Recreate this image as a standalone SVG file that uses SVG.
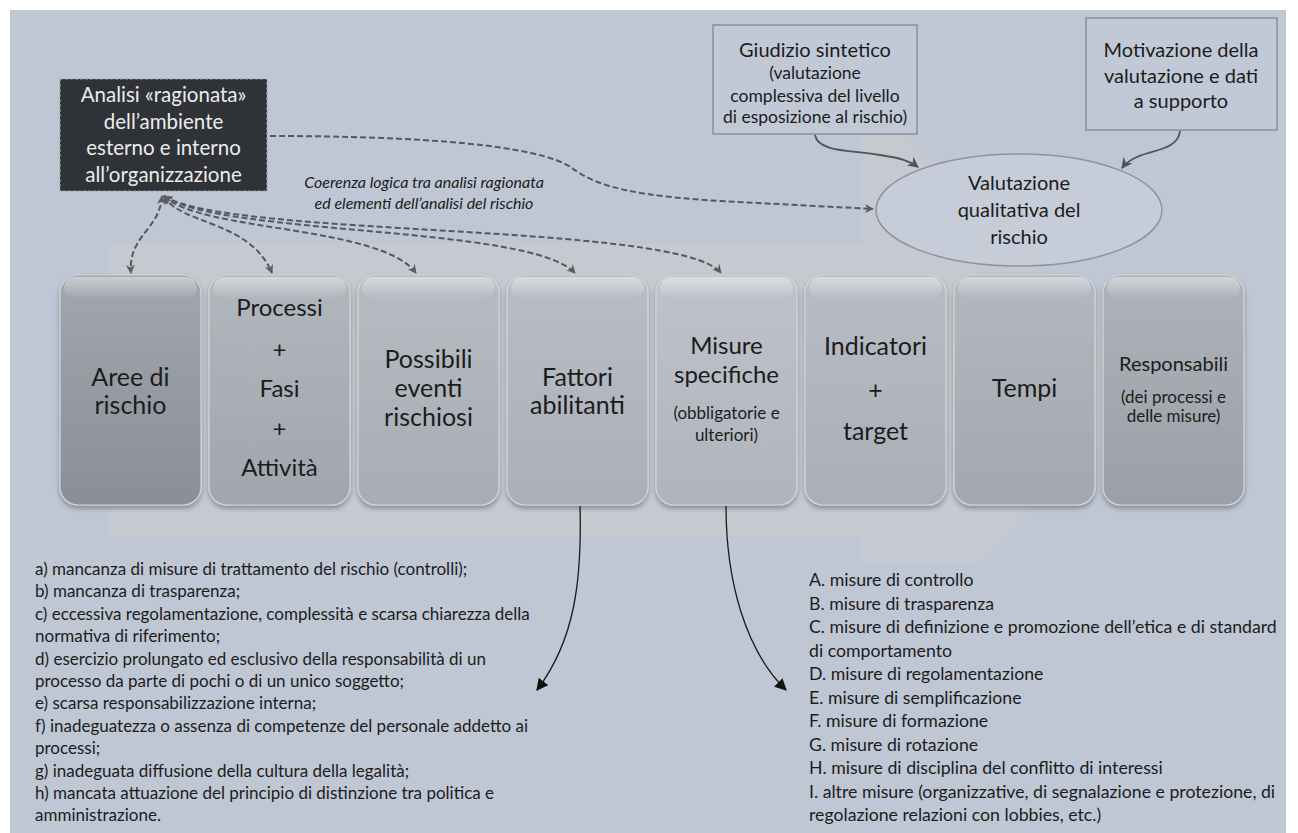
<svg xmlns="http://www.w3.org/2000/svg" width="1298" height="833" viewBox="0 0 1298 833">
<defs>
<style>
.t{font-family:Lato,"Open Sans","DejaVu Sans",sans-serif;fill:#1c1c1c;text-anchor:middle}
.bx{font-size:25px}
.bm{font-size:24px}
.sm{font-size:17px}
.tb{font-size:20px}
.ts{font-size:17.5px}
.dk{font-family:Lato,"Open Sans","DejaVu Sans",sans-serif;fill:#ececec;font-size:20.5px;text-anchor:middle}
.it{font-family:Lato,"Open Sans","DejaVu Sans",sans-serif;font-style:italic;font-size:16px;fill:#1c1c1c;text-anchor:middle}
.ll{font-family:Lato,"Open Sans","DejaVu Sans",sans-serif;font-size:17px;fill:#1c1c1c}
.lr{font-family:Lato,"Open Sans","DejaVu Sans",sans-serif;font-size:17.7px;fill:#1c1c1c}
.dash{fill:none;stroke:#55585e;stroke-width:2;stroke-dasharray:6 3}
.curv{fill:none;stroke:#505358;stroke-width:1.8}
.blk{fill:none;stroke:#1a1a1a;stroke-width:1.3}
.card{stroke:#d2d5da;stroke-width:1.2;filter:url(#sh)}
.gloss{fill:url(#gl)}
</style>
<filter id="sh" x="-10%" y="-10%" width="120%" height="120%">
<feDropShadow dx="0" dy="3" stdDeviation="2.5" flood-color="#000" flood-opacity="0.3"/>
</filter>
<linearGradient id="gl" x1="0" y1="0" x2="0" y2="1">
<stop offset="0" stop-color="#fff" stop-opacity="0.45"/>
<stop offset="1" stop-color="#fff" stop-opacity="0"/>
</linearGradient>
<linearGradient id="g1" x1="0" y1="0" x2="0" y2="1"><stop offset="0" stop-color="#a2a6ad"/><stop offset="1" stop-color="#8a8e96"/></linearGradient>
<linearGradient id="g2" x1="0" y1="0" x2="0" y2="1"><stop offset="0" stop-color="#b2b6bd"/><stop offset="1" stop-color="#a1a5ad"/></linearGradient>
<linearGradient id="g3" x1="0" y1="0" x2="0" y2="1"><stop offset="0" stop-color="#b7bbc2"/><stop offset="1" stop-color="#a8acb4"/></linearGradient>
<linearGradient id="g4" x1="0" y1="0" x2="0" y2="1"><stop offset="0" stop-color="#b9bdc5"/><stop offset="1" stop-color="#abafb7"/></linearGradient>
<linearGradient id="g5" x1="0" y1="0" x2="0" y2="1"><stop offset="0" stop-color="#bec2ca"/><stop offset="1" stop-color="#b0b4bc"/></linearGradient>
<linearGradient id="g6" x1="0" y1="0" x2="0" y2="1"><stop offset="0" stop-color="#b8bcc4"/><stop offset="1" stop-color="#aaaeb6"/></linearGradient>
<linearGradient id="g7" x1="0" y1="0" x2="0" y2="1"><stop offset="0" stop-color="#b3b7be"/><stop offset="1" stop-color="#a3a7af"/></linearGradient>
<linearGradient id="g8" x1="0" y1="0" x2="0" y2="1"><stop offset="0" stop-color="#aeb2b9"/><stop offset="1" stop-color="#9b9fa7"/></linearGradient>
<marker id="ad" viewBox="0 0 10 10" refX="9" refY="5" markerWidth="9" markerHeight="9" markerUnits="userSpaceOnUse" orient="auto-start-reverse">
<path d="M0,0 L10,5 L0,10 L3,5 z" fill="#5a5d62"/>
</marker>
<marker id="ag" viewBox="0 0 10 10" refX="9" refY="5" markerWidth="11" markerHeight="11" markerUnits="userSpaceOnUse" orient="auto">
<path d="M0,0 L10,5 L0,10 L3,5 z" fill="#505358"/>
</marker>
<marker id="ab" viewBox="0 0 10 10" refX="9" refY="5" markerWidth="12" markerHeight="12" markerUnits="userSpaceOnUse" orient="auto">
<path d="M0,0 L10,5 L0,10 z" fill="#111"/>
</marker>
</defs>

<rect x="0" y="0" width="1298" height="833" fill="#ffffff"/>
<rect x="10" y="10" width="1276" height="823" fill="#bfc7d5"/>
<path d="M110 243 L862 243 L862 128 L898 128 L1158 388 L977 562 L862 562 L862 535 L110 535 Z" fill="#c6c9d0"/>

<g id="analisi">
<rect x="60" y="79" width="207" height="112" fill="#2f3236" stroke="#a0a2a6" stroke-width="1.2" stroke-dasharray="3 2"/>
<text class="dk" x="163.5" y="102">Analisi «ragionata»</text>
<text class="dk" x="163.5" y="129">dell’ambiente</text>
<text class="dk" x="163.5" y="155">esterno e interno</text>
<text class="dk" x="163.5" y="182">all’organizzazione</text>
</g>

<g id="giudizio">
<rect x="713" y="25" width="204" height="109" fill="#c2c9d6" stroke="#8a8e96" stroke-width="1.5"/>
<text class="t tb" x="815" y="57">Giudizio sintetico</text>
<text class="t ts" x="815" y="79">(valutazione</text>
<text class="t ts" x="815" y="102">complessiva del livello</text>
<text class="t ts" x="815" y="123">di esposizione al rischio)</text>
</g>

<g id="motivazione">
<rect x="1086" y="18" width="191" height="112" fill="#c2c9d6" stroke="#8a8e96" stroke-width="1.5"/>
<text class="t tb" x="1181" y="57">Motivazione della</text>
<text class="t tb" x="1181" y="83">valutazione e dati</text>
<text class="t tb" x="1181" y="108">a supporto</text>
</g>

<g id="valutazione">
<ellipse cx="1019" cy="210" rx="143" ry="56" fill="#c6ccd8" stroke="#8e939b" stroke-width="1.5"/>
<text class="t tb" x="1019" y="190">Valutazione</text>
<text class="t tb" x="1019" y="217">qualitativa del</text>
<text class="t tb" x="1019" y="244">rischio</text>
</g>

<g id="coerenza">
<text class="it" x="424" y="188">Coerenza logica tra analisi ragionata</text>
<text class="it" x="424" y="209">ed elementi dell’analisi del rischio</text>
</g>

<g id="aree">
<rect class="card" x="60" y="275" width="141" height="230" rx="18" fill="url(#g1)"/>
<rect class="gloss" x="64" y="277" width="133" height="22" rx="11"/>
<text class="t bx" x="130.5" y="386">Aree di</text>
<text class="t bx" x="130.5" y="414">rischio</text>
</g>
<g id="processi">
<rect class="card" x="209" y="275" width="141" height="230" rx="18" fill="url(#g2)"/>
<rect class="gloss" x="213" y="277" width="133" height="22" rx="11"/>
<text class="t bm" x="279.5" y="316">Processi</text>
<text class="t bm" x="279.5" y="358">+</text>
<text class="t bm" x="279.5" y="397">Fasi</text>
<text class="t bm" x="279.5" y="437">+</text>
<text class="t bm" x="279.5" y="476">Attività</text>
</g>
<g id="possibili">
<rect class="card" x="358" y="275" width="141" height="230" rx="18" fill="url(#g3)"/>
<rect class="gloss" x="362" y="277" width="133" height="22" rx="11"/>
<text class="t bx" x="428.5" y="368">Possibili</text>
<text class="t bx" x="428.5" y="397">eventi</text>
<text class="t bx" x="428.5" y="426">rischiosi</text>
</g>
<g id="fattori">
<rect class="card" x="507" y="275" width="141" height="230" rx="18" fill="url(#g4)"/>
<rect class="gloss" x="511" y="277" width="133" height="22" rx="11"/>
<text class="t bx" x="577.5" y="386">Fattori</text>
<text class="t bx" x="577.5" y="414">abilitanti</text>
</g>
<g id="misure">
<rect class="card" x="656" y="275" width="141" height="230" rx="18" fill="url(#g5)"/>
<rect class="gloss" x="660" y="277" width="133" height="22" rx="11"/>
<text class="t bm" x="726.5" y="354">Misure</text>
<text class="t bm" x="726.5" y="383">specifiche</text>
<text class="t sm" x="726.5" y="419">(obbligatorie e</text>
<text class="t sm" x="726.5" y="441">ulteriori)</text>
</g>
<g id="indicatori">
<rect class="card" x="805" y="275" width="141" height="230" rx="18" fill="url(#g6)"/>
<rect class="gloss" x="809" y="277" width="133" height="22" rx="11"/>
<text class="t bx" x="875.5" y="355">Indicatori</text>
<text class="t bx" x="875.5" y="399">+</text>
<text class="t bx" x="875.5" y="440">target</text>
</g>
<g id="tempi">
<rect class="card" x="954" y="275" width="141" height="230" rx="18" fill="url(#g7)"/>
<rect class="gloss" x="958" y="277" width="133" height="22" rx="11"/>
<text class="t bx" x="1024.5" y="397">Tempi</text>
</g>
<g id="responsabili">
<rect class="card" x="1103" y="275" width="141" height="230" rx="18" fill="url(#g8)"/>
<rect class="gloss" x="1107" y="277" width="133" height="22" rx="11"/>
<text class="t tb" x="1173.5" y="371">Responsabili</text>
<text class="t sm" x="1173.5" y="403">(dei processi e</text>
<text class="t sm" x="1173.5" y="422">delle misure)</text>
</g>

<g id="fattori-list">
<text class="ll" x="35" y="575">a) mancanza di misure di trattamento del rischio (controlli);</text>
<text class="ll" x="35" y="597.4">b) mancanza di trasparenza;</text>
<text class="ll" x="35" y="619.8">c) eccessiva regolamentazione, complessità e scarsa chiarezza della</text>
<text class="ll" x="35" y="642.2">normativa di riferimento;</text>
<text class="ll" x="35" y="664.6">d) esercizio prolungato ed esclusivo della responsabilità di un</text>
<text class="ll" x="35" y="687">processo da parte di pochi o di un unico soggetto;</text>
<text class="ll" x="35" y="709.4">e) scarsa responsabilizzazione interna;</text>
<text class="ll" x="35" y="731.8">f) inadeguatezza o assenza di competenze del personale addetto ai</text>
<text class="ll" x="35" y="754.2">processi;</text>
<text class="ll" x="35" y="776.6">g) inadeguata diffusione della cultura della legalità;</text>
<text class="ll" x="35" y="799">h) mancata attuazione del principio di distinzione tra politica e</text>
<text class="ll" x="35" y="821.4">amministrazione.</text>
</g>

<g id="misure-list">
<text class="lr" x="809" y="586">A. misure di controllo</text>
<text class="lr" x="809" y="609.5">B. misure di trasparenza</text>
<text class="lr" x="809" y="633">C. misure di definizione e promozione dell’etica e di standard</text>
<text class="lr" x="809" y="656.5">di comportamento</text>
<text class="lr" x="809" y="680">D. misure di regolamentazione</text>
<text class="lr" x="809" y="703.5">E. misure di semplificazione</text>
<text class="lr" x="809" y="727">F. misure di formazione</text>
<text class="lr" x="809" y="750.5">G. misure di rotazione</text>
<text class="lr" x="809" y="774">H. misure di disciplina del conflitto di interessi</text>
<text class="lr" x="809" y="797.5">I. altre misure (organizzative, di segnalazione e protezione, di</text>
<text class="lr" x="809" y="821">regolazione relazioni con lobbies, etc.)</text>
</g>

<g id="connectors">
<path class="dash" d="M270 136 C 420 136, 540 145, 572 168 C 598 188, 640 196, 720 201 L 873 209" marker-end="url(#ad)"/>
<path class="dash" d="M162 196 C 160 230, 128 235, 131 273" marker-start="url(#ad)" marker-end="url(#ad)"/>
<path class="dash" d="M164 196 C 180 225, 250 220, 272 273" marker-start="url(#ad)" marker-end="url(#ad)"/>
<path class="dash" d="M164 196 C 200 232, 380 225, 416 273" marker-start="url(#ad)" marker-end="url(#ad)"/>
<path class="dash" d="M164 196 C 220 236, 530 225, 575 273" marker-start="url(#ad)" marker-end="url(#ad)"/>
<path class="dash" d="M164 196 C 230 238, 680 222, 721 273" marker-start="url(#ad)" marker-end="url(#ad)"/>
<path class="curv" d="M815 135 C 818 152, 850 150, 880 155 C 900 158, 910 161, 918 167" marker-end="url(#ag)"/>
<path class="curv" d="M1180 131 C 1178 150, 1152 150, 1137 157 C 1128 161, 1125 164, 1122 168" marker-end="url(#ag)"/>
<path class="blk" d="M580 506 C 582 580, 575 640, 537 690" marker-end="url(#ab)"/>
<path class="blk" d="M726 506 C 726 580, 745 650, 786 690" marker-end="url(#ab)"/>
</g>
</svg>
